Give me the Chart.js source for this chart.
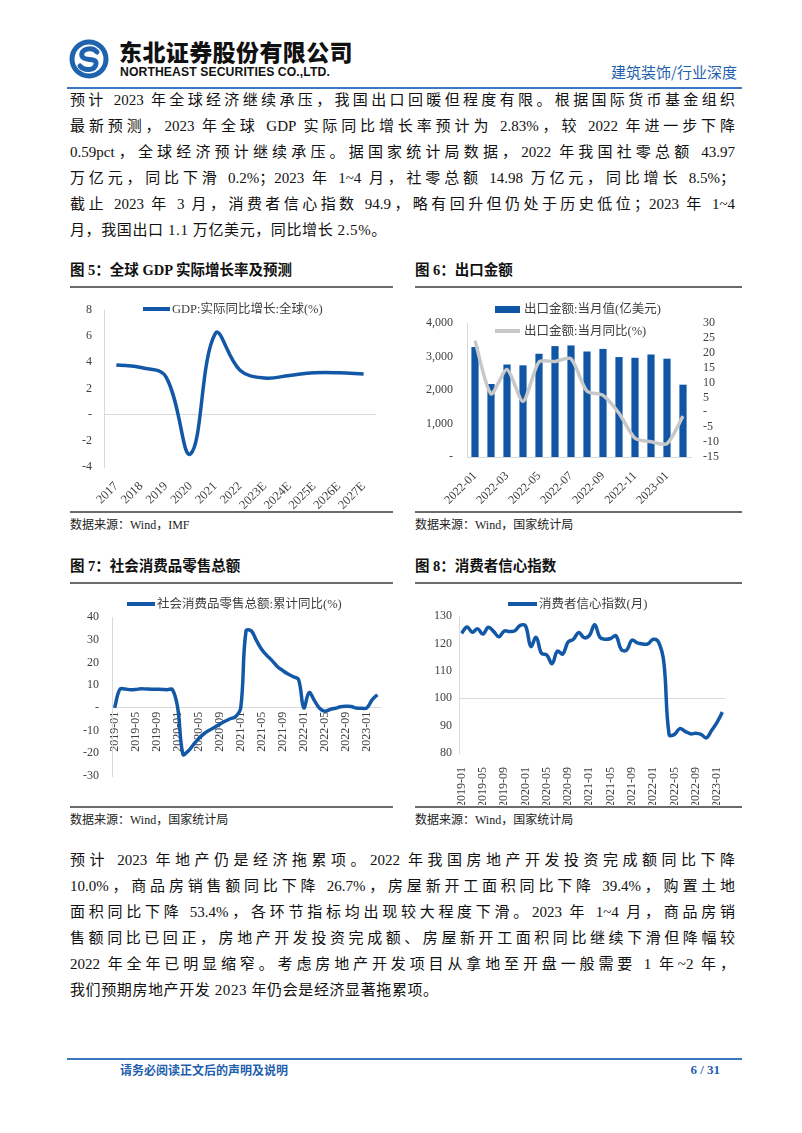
<!DOCTYPE html>
<html>
<head>
<meta charset="utf-8">
<script src="https://cdn.jsdelivr.net/npm/chart.js@4.4.0/dist/chart.umd.min.js"></script>
<style>
  body { margin: 0; background: #fff; }
  #page { position: relative; width: 802px; height: 1133px; overflow: hidden; background: #fff;
    font-family: "Liberation Serif", "Noto Sans CJK SC", serif; color: #111; }
  .abs { position: absolute; }
  .para div { height: 26px; line-height: 26px; font-size: 15px; white-space: nowrap;
    text-align: justify; text-align-last: justify; }
  .para div.last { text-align-last: left; letter-spacing: 0.6px; }
  .ftitle { font-size: 14.5px; font-weight: bold; line-height: 18px; }
  .rule { height: 2px; background: #6b6b6b; }
  .src { font-size: 12px; line-height: 16px; color: #222; }
  .leg { font-size: 12.5px; line-height: 16px; color: #404040; white-space: nowrap; }
  .sw { position: absolute; }
  canvas { position: absolute; }
</style>
</head>
<body>
<div id="page">
  <!-- header -->
  <svg class="abs" style="left:69px;top:39px" width="40" height="40" viewBox="0 0 40 40">
    <circle cx="20" cy="20" r="19.5" fill="#1f62ad"/>
    <circle cx="20" cy="20" r="14.5" fill="#fff"/>
    <path d="M28 13 C 23 7, 11 10, 13 17 C 15 23, 28 18, 27 25 C 26 32, 15 32, 11 27" stroke="#1f62ad" stroke-width="5" fill="none" stroke-linecap="round"/>
  </svg>
  <div class="abs" style="left:119px;top:37px;font-family:'Noto Sans CJK SC';font-weight:900;font-size:23px;line-height:28px;letter-spacing:0.4px;color:#111">东北证券股份有限公司</div>
  <div class="abs" style="left:120px;top:65px;font-family:'Liberation Sans';font-weight:bold;font-size:12.2px;line-height:14px;color:#111;letter-spacing:0.1px">NORTHEAST SECURITIES CO.,LTD.</div>
  <div class="abs" style="left:611px;top:63px;font-family:'Noto Sans CJK SC';font-size:15px;line-height:18px;color:#1f5fae">建筑装饰/行业深度</div>
  <div class="abs" style="left:67px;top:87px;width:675px;height:1.5px;background:#3a78c0"></div>

  <!-- paragraph 1 -->
  <div class="abs para" style="left:70px;top:87px;width:665px">
    <div>预计 2023 年全球经济继续承压，我国出口回暖但程度有限。根据国际货币基金组织</div>
    <div>最新预测，2023 年全球 GDP 实际同比增长率预计为 2.83%，较 2022 年进一步下降</div>
    <div>0.59pct，全球经济预计继续承压。据国家统计局数据，2022 年我国社零总额 43.97</div>
    <div>万亿元，同比下滑 0.2%；2023 年 1~4 月，社零总额 14.98 万亿元，同比增长 8.5%；</div>
    <div>截止 2023 年 3 月，消费者信心指数 94.9，略有回升但仍处于历史低位；2023 年 1~4</div>
    <div class="last">月，我国出口 1.1 万亿美元，同比增长 2.5%。</div>
  </div>

  <!-- figure titles row 1 -->
  <div class="abs ftitle" style="left:70px;top:261px">图 5：全球 GDP 实际增长率及预测</div>
  <div class="abs ftitle" style="left:415px;top:261px">图 6：出口金额</div>
  <div class="abs rule" style="left:70px;top:286px;width:323px"></div>
  <div class="abs rule" style="left:415px;top:286px;width:327px"></div>

  <canvas id="c1" width="340" height="220" style="left:60px;top:290px"></canvas>
  <canvas id="c2" width="340" height="220" style="left:410px;top:290px"></canvas>

  <!-- legends row 1 -->
  <div class="sw" style="left:143px;top:307px;width:27px;height:3.5px;background:#1258a6"></div>
  <div class="abs leg" style="left:172px;top:301px">GDP:实际同比增长:全球(%)</div>
  <div class="sw" style="left:495px;top:306px;width:25px;height:7px;background:#0f56a5"></div>
  <div class="abs leg" style="left:524px;top:301px">出口金额:当月值(亿美元)</div>
  <div class="sw" style="left:495px;top:329px;width:25px;height:3.5px;background:#c8c8c8"></div>
  <div class="abs leg" style="left:524px;top:323px">出口金额:当月同比(%)</div>

  <div class="abs rule" style="left:70px;top:511px;width:323px"></div>
  <div class="abs rule" style="left:415px;top:511px;width:327px"></div>
  <div class="abs src" style="left:70px;top:517px">数据来源：Wind，IMF</div>
  <div class="abs src" style="left:415px;top:517px">数据来源：Wind，国家统计局</div>

  <!-- figure titles row 2 -->
  <div class="abs ftitle" style="left:70px;top:557px">图 7：社会消费品零售总额</div>
  <div class="abs ftitle" style="left:415px;top:557px">图 8：消费者信心指数</div>
  <div class="abs rule" style="left:70px;top:582px;width:323px"></div>
  <div class="abs rule" style="left:415px;top:582px;width:327px"></div>

  <canvas id="c3" width="340" height="220" style="left:60px;top:585px"></canvas>
  <canvas id="c4" width="340" height="220" style="left:410px;top:585px"></canvas>

  <div class="sw" style="left:127px;top:602px;width:28px;height:3.5px;background:#1258a6"></div>
  <div class="abs leg" style="left:157px;top:596px">社会消费品零售总额:累计同比(%)</div>
  <div class="sw" style="left:508px;top:602px;width:29px;height:3.5px;background:#1258a6"></div>
  <div class="abs leg" style="left:539px;top:596px">消费者信心指数(月)</div>

  <div class="abs rule" style="left:70px;top:806px;width:323px"></div>
  <div class="abs rule" style="left:415px;top:806px;width:327px"></div>
  <div class="abs src" style="left:70px;top:812px">数据来源：Wind，国家统计局</div>
  <div class="abs src" style="left:415px;top:812px">数据来源：Wind，国家统计局</div>

  <!-- paragraph 2 -->
  <div class="abs para" style="left:70px;top:847px;width:665px">
    <div>预计 2023 年地产仍是经济拖累项。2022 年我国房地产开发投资完成额同比下降</div>
    <div>10.0%，商品房销售额同比下降 26.7%，房屋新开工面积同比下降 39.4%，购置土地</div>
    <div>面积同比下降 53.4%，各环节指标均出现较大程度下滑。2023 年 1~4 月，商品房销</div>
    <div>售额同比已回正，房地产开发投资完成额、房屋新开工面积同比继续下滑但降幅较</div>
    <div>2022 年全年已明显缩窄。考虑房地产开发项目从拿地至开盘一般需要 1 年~2 年，</div>
    <div class="last">我们预期房地产开发 2023 年仍会是经济显著拖累项。</div>
  </div>

  <!-- footer -->
  <div class="abs" style="left:67px;top:1058px;width:675px;height:1.5px;background:#3a78c0"></div>
  <div class="abs" style="left:120px;top:1062px;font-family:'Noto Sans CJK SC';font-weight:bold;font-size:12px;line-height:16px;color:#1f5fae">请务必阅读正文后的声明及说明</div>
  <div class="abs" style="left:680px;top:1062px;width:40px;text-align:right;font-family:'Liberation Serif';font-weight:bold;font-size:13px;line-height:16px;color:#1f5fae">6 / 31</div>
</div>

<script>
// 图5 全球GDP
const gdpYears = ['2017', '2018', '2019', '2020', '2021', '2022', '2023E', '2024E', '2025E', '2026E', '2027E'];
const gdpGrowth = [3.8, 3.6, 2.9, -3.0, 6.2, 3.4, 2.8, 3.0, 3.2, 3.2, 3.1];

// 图6 出口金额
const exportMonths = ['2022-01', '2022-02', '2022-03', '2022-04', '2022-05', '2022-06', '2022-07',
  '2022-08', '2022-09', '2022-10', '2022-11', '2022-12', '2023-01', '2023-02'];
const exportValue = [3284, 2180, 2761, 2736, 3082, 3310, 3330, 3149, 3227, 2983, 2961, 3060, 2935, 2159];
const exportYoY = [24.0, 6.2, 14.4, 3.7, 16.9, 17.1, 18.0, 7.1, 5.7, -0.3, -8.7, -9.9, -10.5, -1.3];

// 图7 社零累计同比 2019-01 ~ 2023-03
const retailMonths = [
  '2019-01', '2019-02', '2019-03', '2019-04', '2019-05', '2019-06', '2019-07', '2019-08', '2019-09', '2019-10', '2019-11', '2019-12',
  '2020-01', '2020-02', '2020-03', '2020-04', '2020-05', '2020-06', '2020-07', '2020-08', '2020-09', '2020-10', '2020-11', '2020-12',
  '2021-01', '2021-02', '2021-03', '2021-04', '2021-05', '2021-06', '2021-07', '2021-08', '2021-09', '2021-10', '2021-11', '2021-12',
  '2022-01', '2022-02', '2022-03', '2022-04', '2022-05', '2022-06', '2022-07', '2022-08', '2022-09', '2022-10', '2022-11', '2022-12',
  '2023-01', '2023-02', '2023-03'];
const retailYoY = [
  0, 8.2, 8.3, 8.0, 8.1, 8.4, 8.3, 8.2, 8.2, 8.1, 8.0, 8.0,
  0, -20.5, -19.0, -16.2, -13.5, -11.4, -9.9, -8.6, -7.2, -5.9, -4.8, -3.9,
  0, 33.8, 33.9, 29.6, 25.7, 23.0, 20.7, 18.1, 16.4, 14.9, 13.7, 12.5,
  0, 6.7, 3.3, -0.2, -1.5, -0.7, -0.2, 0.5, 0.7, 0.6, -0.1, -0.2,
  0, 3.5, 5.8];

// 图8 消费者信心指数 2019-01 ~ 2023-02
const confMonths = retailMonths.slice(0, 50);
const confIndex = [
  123.7, 126.0, 124.1, 125.3, 123.4, 125.9, 124.4, 122.4, 124.5, 124.3, 124.6, 126.6,
  126.4, 118.9, 122.2, 116.4, 115.8, 112.6, 117.2, 116.1, 120.5, 121.5, 124.0, 122.1,
  122.8, 126.8, 122.2, 121.5, 121.8, 122.8, 117.8, 117.5, 121.2, 120.2, 119.8, 119.8,
  121.5, 120.5, 113.2, 86.7, 86.8, 88.9, 87.9, 87.0, 87.2, 86.8, 85.5, 88.3,
  91.2, 94.9];

const BLUE = '#1258a6';
const AXIS = '#d9d9d9';
Chart.defaults.font.family = "'Liberation Serif', 'Noto Sans CJK SC', serif";
Chart.defaults.font.size = 12;
Chart.defaults.color = '#404040';
Chart.defaults.animation = false;
Chart.defaults.responsive = false;
Chart.defaults.plugins.legend.display = false;
Chart.defaults.plugins.tooltip.enabled = false;

const dashZero = v => (v === 0 ? '-' : v);

// chart 1
new Chart(document.getElementById('c1'), {
  type: 'line',
  data: {
    labels: gdpYears,
    datasets: [{ data: gdpGrowth, borderColor: BLUE, borderWidth: 3.5, pointRadius: 0, tension: 0.4 }]
  },
  options: {
    layout: { padding: { top: 20, right: 24, left: 0, bottom: 0 } },
    scales: {
      x: {
        offset: true,
        grid: { display: false },
        border: { display: false },
        ticks: { minRotation: 45, maxRotation: 45, padding: 4, autoSkip: false, font: { size: 12.5 } },
        afterFit: s => { s.height = 43; }
      },
      y: {
        min: -4, max: 8,
        ticks: { stepSize: 2, padding: 12, autoSkip: false, callback: dashZero },
        grid: { drawTicks: false, color: c => (c.tick && c.tick.value === 0 ? AXIS : 'transparent') },
        border: { color: AXIS },
        afterFit: s => { s.width = 44; }
      }
    }
  }
});

// chart 2
new Chart(document.getElementById('c2'), {
  data: {
    labels: exportMonths,
    datasets: [
      { type: 'line', data: exportYoY, yAxisID: 'y1', borderColor: '#c8c8c8', borderWidth: 3.5,
        pointRadius: 0, tension: 0.25, order: 0 },
      { type: 'bar', data: exportValue, yAxisID: 'y', backgroundColor: '#0f56a5',
        barPercentage: 0.45, categoryPercentage: 1, order: 1 }
    ]
  },
  options: {
    layout: { padding: { top: 33, right: 0, left: 0, bottom: 0 } },
    scales: {
      x: {
        grid: { display: false },
        border: { color: AXIS },
        ticks: {
          minRotation: 45, maxRotation: 45, padding: 4, autoSkip: false,
          callback: function (v, i) { return i % 2 === 0 ? this.getLabelForValue(v) : ''; }
        },
        afterFit: s => { s.height = 53; }
      },
      y: {
        position: 'left',
        min: 0, max: 4000,
        ticks: { stepSize: 1000, padding: 14, autoSkip: false,
          callback: v => (v === 0 ? '-' : v.toLocaleString('en-US')) },
        grid: { display: false, drawTicks: false },
        border: { color: AXIS },
        afterFit: s => { s.width = 57; }
      },
      y1: {
        position: 'right',
        min: -15, max: 30,
        ticks: { stepSize: 5, padding: 12, autoSkip: false, callback: dashZero },
        grid: { display: false, drawTicks: false },
        border: { display: false },
        afterFit: s => { s.width = 59; }
      }
    }
  }
});

// chart 3
new Chart(document.getElementById('c3'), {
  type: 'line',
  data: {
    labels: retailMonths,
    datasets: [{ data: retailYoY, borderColor: BLUE, borderWidth: 3.5, pointRadius: 0, tension: 0.4 }]
  },
  options: {
    layout: { padding: { top: 32, right: 20, left: 0, bottom: 29 } },
    scales: {
      x: {
        position: { y: 0 },
        offset: true,
        grid: { color: 'transparent', drawTicks: false },
        border: { color: AXIS },
        ticks: {
          minRotation: 90, maxRotation: 90, padding: 4, autoSkip: false,
          callback: function (v, i) { return i % 4 === 0 ? this.getLabelForValue(v) : ''; }
        },
        afterFit: s => { s.height = 0; }
      },
      y: {
        min: -30, max: 40,
        ticks: { stepSize: 10, padding: 13, autoSkip: false, callback: dashZero },
        grid: { display: false, drawTicks: false },
        border: { color: AXIS },
        afterFit: s => { s.width = 52; }
      }
    }
  }
});

// chart 4
new Chart(document.getElementById('c4'), {
  type: 'line',
  data: {
    labels: confMonths,
    datasets: [{ data: confIndex, borderColor: BLUE, borderWidth: 3.5, pointRadius: 0, tension: 0.4 }]
  },
  options: {
    layout: { padding: { top: 31, right: 25, left: 0, bottom: 0 } },
    scales: {
      x: {
        offset: true,
        grid: { display: false },
        border: { display: false },
        ticks: {
          minRotation: 90, maxRotation: 90, padding: 6, autoSkip: false,
          callback: function (v, i) { return i % 4 === 0 ? this.getLabelForValue(v) : ''; }
        },
        afterFit: s => { s.height = 52; }
      },
      y: {
        min: 80, max: 130,
        ticks: { stepSize: 10, padding: 7, autoSkip: false },
        grid: { drawTicks: false, color: c => (c.tick && c.tick.value === 100 ? AXIS : 'transparent') },
        border: { color: AXIS },
        afterFit: s => { s.width = 49; }
      }
    }
  }
});
</script>
</body>
</html>
